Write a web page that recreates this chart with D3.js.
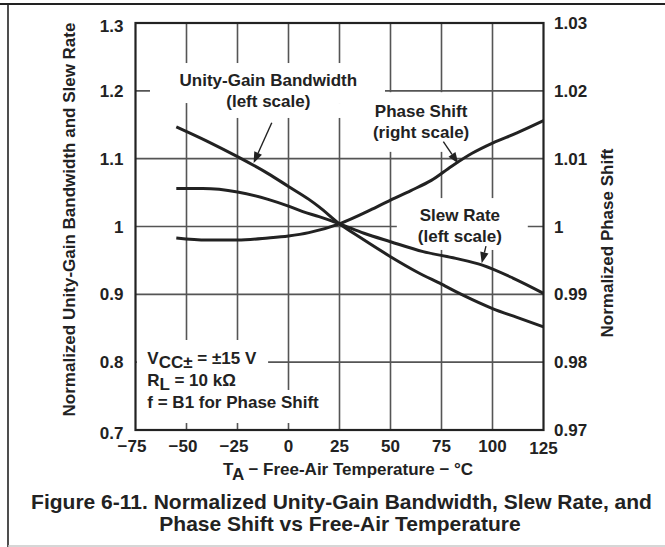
<!DOCTYPE html>
<html><head><meta charset="utf-8">
<script src="https://cdn.jsdelivr.net/npm/d3@7"></script>
<style>
body{margin:0;background:#fff;}
svg{display:block;}
text{font-family:"Liberation Sans",Arial,Helvetica,sans-serif;font-weight:bold;fill:#222;}
</style>
</head><body>
<svg id="c" width="665" height="547"></svg>
<script>
// ---------- data ----------
const xTicks = [-75,-50,-25,0,25,50,75,100,125];
const xTickLabels = ["\u221275","\u221250","\u221225","0","25","50","75","100","125"];
const leftTicks = [0.7,0.8,0.9,1.0,1.1,1.2,1.3];
const leftTickLabels = ["0.7","0.8","0.9","1","1.1","1.2","1.3"];
const rightTicks = [0.97,0.98,0.99,1.0,1.01,1.02,1.03];
const rightTickLabels = ["0.97","0.98","0.99","1","1.01","1.02","1.03"];

// Unity-gain bandwidth (left scale)
const ugbwTemp = [-55,-40,-25,-10,0,10,15,25,35,50,63,75,86,100,112,125];
const ugbwVal  = [1.147,1.126,1.103,1.078,1.059,1.040,1.029,1.004,0.984,0.9555,0.933,0.915,0.898,0.879,0.866,0.852];
// Slew rate (left scale)
const slewTemp = [-55,-42,-25,-10,0,7,15,25,37,50,66,82,95,110,125];
const slewVal  = [1.056,1.056,1.051,1.040,1.030,1.022,1.0145,1.004,0.990,0.9776,0.963,0.953,0.943,0.924,0.9015];
// Phase shift (right scale)
const phaseTemp = [-55,-40,-25,-10,0,10,25,40,50,60,70,80,90,100,112,125];
const phaseVal  = [0.9983,0.9980,0.9980,0.9983,0.9986,0.9991,1.0004,1.0024,1.0039,1.0053,1.0068,1.0089,1.0108,1.0123,1.0138,1.0156];

// annotation labels (position: centre temperature, baseline value on left scale)
const labelText = [["Unity-Gain Bandwidth","(left scale)"],["Phase Shift","(right scale)"],["Slew Rate","(left scale)"]];
const labelAt   = [[-9.9,1.207],[65,1.161],[84,1.0086]];
// arrows: [fromT, fromV, tipT, tipV] (left scale)
const arrows = [[-8.2,1.153,-17.1,1.0936],[75.9,1.125,83.2,1.093],[96.8,0.971,94.7,0.9458]];
// conditions block
const condAt = [-69.2,0.797];

// ---------- layout ----------
const svg = d3.select("#c");
const P = {l:135.5, r:543.5, t:23, b:430};
const x  = d3.scaleLinear().domain([-75,125]).range([P.l,P.r]);
const yL = d3.scaleLinear().domain([0.7,1.3]).range([P.b,P.t]);
const yR = d3.scaleLinear().domain([0.97,1.03]).range([P.b,P.t]);

// outer figure frame
svg.append("line").attr("x1",0).attr("x2",665).attr("y1",4).attr("y2",4).attr("stroke","#222").attr("stroke-width",2);
svg.append("line").attr("x1",8).attr("x2",8).attr("y1",4).attr("y2",547).attr("stroke","#222").attr("stroke-width",1.6);
svg.append("line").attr("x1",8).attr("x2",665).attr("y1",546).attr("y2",546).attr("stroke","#c8c8c8").attr("stroke-width",1.5);

// gridlines
const grid = svg.append("g").attr("stroke","#555").attr("stroke-width",1.6);
xTicks.slice(1,-1).forEach(t=>{
  grid.append("line").attr("x1",x(t)).attr("x2",x(t)).attr("y1",P.t).attr("y2",P.b);
});
leftTicks.slice(1,-1).forEach(v=>{
  grid.append("line").attr("x1",P.l).attr("x2",P.r).attr("y1",yL(v)).attr("y2",yL(v));
});

// white masks behind the annotations (gaps in the grid)
const masks = [[-67.9,47.3,1.241,1.182],[-45.8,47.3,1.182,1.160],[40,93,1.198,1.110],[53.1,117.3,1.0419,0.9654],[-74.3,-10,0.8327,0.7103],[-10,18,0.759,0.7103]];
masks.forEach(m=>{
  svg.append("rect").attr("x",x(m[0])).attr("y",yL(m[2])).attr("width",x(m[1])-x(m[0])).attr("height",yL(m[3])-yL(m[2])).attr("fill","#fff");
});

// plot frame
svg.append("rect").attr("x",P.l).attr("y",P.t).attr("width",P.r-P.l).attr("height",P.b-P.t)
  .attr("fill","none").attr("stroke","#222").attr("stroke-width",2.2);

// curves
const lineL = d3.line().x(d=>x(d[0])).y(d=>yL(d[1])).curve(d3.curveMonotoneX);
const lineR = d3.line().x(d=>x(d[0])).y(d=>yR(d[1])).curve(d3.curveMonotoneX);
const curveStyle = s=>s.attr("fill","none").attr("stroke","#222").attr("stroke-width",3).attr("stroke-linejoin","round").attr("stroke-linecap","butt");
svg.append("path").attr("d",lineL(d3.zip(ugbwTemp,ugbwVal))).call(curveStyle);
svg.append("path").attr("d",lineL(d3.zip(slewTemp,slewVal))).call(curveStyle);
svg.append("path").attr("d",lineR(d3.zip(phaseTemp,phaseVal))).call(curveStyle);

// arrows
arrows.forEach(a=>{
  const x0=x(a[0]), y0=yL(a[1]), x1=x(a[2]), y1=yL(a[3]);
  const ang=Math.atan2(y1-y0,x1-x0), L=11, W=4.2;
  const bx=x1-L*Math.cos(ang), by=y1-L*Math.sin(ang);
  svg.append("line").attr("x1",x0).attr("y1",y0).attr("x2",bx).attr("y2",by).attr("stroke","#222").attr("stroke-width",1.4);
  const px=-Math.sin(ang), py=Math.cos(ang);
  svg.append("path").attr("d",`M${x1},${y1}L${bx+W*px},${by+W*py}L${bx-W*px},${by-W*py}Z`).attr("fill","#222");
});

// annotation labels
labelText.forEach((lines,i)=>{
  const t = svg.append("text").attr("text-anchor","middle").attr("font-size",17)
    .attr("x",x(labelAt[i][0])).attr("y",yL(labelAt[i][1]));
  lines.forEach((s,j)=>t.append("tspan").attr("x",x(labelAt[i][0])).attr("dy",j?21:0).text(s));
});

// conditions
const cx = x(condAt[0]), cy = yL(condAt[1]);
const c1 = svg.append("text").attr("x",cx).attr("y",cy).attr("font-size",17);
c1.append("tspan").text("V");
c1.append("tspan").attr("dy",4).text("CC\u00B1");
c1.append("tspan").attr("dy",-4).text(" = \u00B115 V");
const c2 = svg.append("text").attr("x",cx).attr("y",cy+21.5).attr("font-size",17);
c2.append("tspan").text("R");
c2.append("tspan").attr("dy",4).text("L");
c2.append("tspan").attr("dy",-4).text(" = 10 k\u03A9");
svg.append("text").attr("x",cx).attr("y",cy+44).attr("font-size",17).text("f = B1 for Phase Shift");

// tick labels
leftTicks.forEach((v,i)=>{
  const off = i===leftTicks.length-1 ? 3 : (i===0 ? 2.5 : 0);
  svg.append("text").attr("x",123.5).attr("y",yL(v)+off).attr("dy","0.36em")
    .attr("text-anchor","end").attr("font-size",17).text(leftTickLabels[i]);
});
rightTicks.forEach((v,i)=>{
  svg.append("text").attr("x",554).attr("y",yR(v)).attr("dy","0.36em")
    .attr("text-anchor","start").attr("font-size",17).text(rightTickLabels[i]);
});
xTicks.forEach((t,i)=>{
  const neg = t<0;
  svg.append("text").attr("x",x(t)+(neg?-3.5:0)).attr("y",452 + (i===xTicks.length-1?2:0))
    .attr("text-anchor","middle").attr("font-size",17).text(xTickLabels[i]);
});

// axis titles
const xt = svg.append("text").attr("x",348).attr("y",475).attr("text-anchor","middle").attr("font-size",17);
xt.append("tspan").text("T");
xt.append("tspan").attr("dy",4.5).text("A");
xt.append("tspan").attr("dy",-4.5).text(" \u2212 Free-Air Temperature \u2212 \u00B0C");

svg.append("text").attr("transform","translate(75,219.5) rotate(-90)").attr("text-anchor","middle")
  .attr("font-size",17).text("Normalized Unity-Gain Bandwidth and Slew Rate");
svg.append("text").attr("transform","translate(613,243) rotate(-90)").attr("text-anchor","middle")
  .attr("font-size",17).text("Normalized Phase Shift");

// caption
svg.append("text").attr("x",341.5).attr("y",508.5).attr("text-anchor","middle").attr("font-size",21)
  .text("Figure 6-11. Normalized Unity-Gain Bandwidth, Slew Rate, and");
svg.append("text").attr("x",340).attr("y",531).attr("text-anchor","middle").attr("font-size",21)
  .text("Phase Shift vs Free-Air Temperature");
</script>
</body></html>
